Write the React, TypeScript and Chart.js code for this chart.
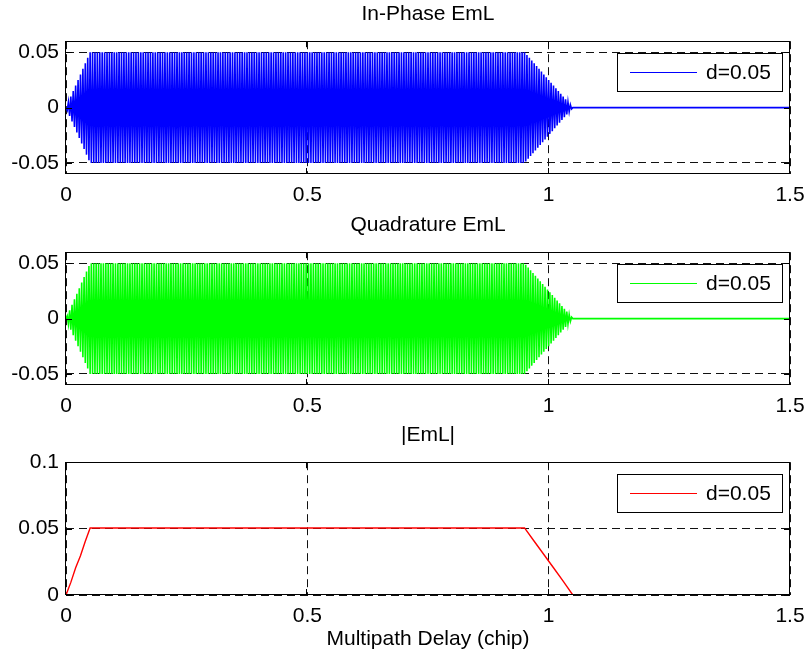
import React, { useEffect, useRef } from 'react';
import { Chart, registerables } from 'chart.js';

Chart.register(...registerables);

// ---- data ----
const SAMPLE_STEP = 0.0025; // chip spacing of the EmL samples
const TAIL_X = 1.5;
const TAIL_Y = 0;
const X_TICKS = [0, 0.5, 1, 1.5];
const IQ_Y_TICKS = [-0.05, 0, 0.05];
const MAG_Y_TICKS = [0, 0.05, 0.1];
const TITLES = ['In-Phase EmL', 'Quadrature EmL', '|EmL|'];
const X_LABEL = 'Multipath Delay (chip)';
const LEGEND_LABEL = 'd=0.05';

const IN_PHASE = [
  0, -0.0025, 0.005, -0.0075, 0.01, -0.0125, 0.015, -0.0175, 0.02, -0.0225,
  0.025, -0.0275, 0.03, -0.0325, 0.035, -0.0375, 0.04, -0.0425, 0.045, -0.0475,
  0.05, -0.05, 0.05, -0.05, 0.05, -0.05, 0.05, -0.05, 0.05, -0.05,
  0.05, -0.05, 0.05, -0.05, 0.05, -0.05, 0.05, -0.05, 0.05, -0.05,
  0.05, -0.05, 0.05, -0.05, 0.05, -0.05, 0.05, -0.05, 0.05, -0.05,
  0.05, -0.05, 0.05, -0.05, 0.05, -0.05, 0.05, -0.05, 0.05, -0.05,
  0.05, -0.05, 0.05, -0.05, 0.05, -0.05, 0.05, -0.05, 0.05, -0.05,
  0.05, -0.05, 0.05, -0.05, 0.05, -0.05, 0.05, -0.05, 0.05, -0.05,
  0.05, -0.05, 0.05, -0.05, 0.05, -0.05, 0.05, -0.05, 0.05, -0.05,
  0.05, -0.05, 0.05, -0.05, 0.05, -0.05, 0.05, -0.05, 0.05, -0.05,
  0.05, -0.05, 0.05, -0.05, 0.05, -0.05, 0.05, -0.05, 0.05, -0.05,
  0.05, -0.05, 0.05, -0.05, 0.05, -0.05, 0.05, -0.05, 0.05, -0.05,
  0.05, -0.05, 0.05, -0.05, 0.05, -0.05, 0.05, -0.05, 0.05, -0.05,
  0.05, -0.05, 0.05, -0.05, 0.05, -0.05, 0.05, -0.05, 0.05, -0.05,
  0.05, -0.05, 0.05, -0.05, 0.05, -0.05, 0.05, -0.05, 0.05, -0.05,
  0.05, -0.05, 0.05, -0.05, 0.05, -0.05, 0.05, -0.05, 0.05, -0.05,
  0.05, -0.05, 0.05, -0.05, 0.05, -0.05, 0.05, -0.05, 0.05, -0.05,
  0.05, -0.05, 0.05, -0.05, 0.05, -0.05, 0.05, -0.05, 0.05, -0.05,
  0.05, -0.05, 0.05, -0.05, 0.05, -0.05, 0.05, -0.05, 0.05, -0.05,
  0.05, -0.05, 0.05, -0.05, 0.05, -0.05, 0.05, -0.05, 0.05, -0.05,
  0.05, -0.05, 0.05, -0.05, 0.05, -0.05, 0.05, -0.05, 0.05, -0.05,
  0.05, -0.05, 0.05, -0.05, 0.05, -0.05, 0.05, -0.05, 0.05, -0.05,
  0.05, -0.05, 0.05, -0.05, 0.05, -0.05, 0.05, -0.05, 0.05, -0.05,
  0.05, -0.05, 0.05, -0.05, 0.05, -0.05, 0.05, -0.05, 0.05, -0.05,
  0.05, -0.05, 0.05, -0.05, 0.05, -0.05, 0.05, -0.05, 0.05, -0.05,
  0.05, -0.05, 0.05, -0.05, 0.05, -0.05, 0.05, -0.05, 0.05, -0.05,
  0.05, -0.05, 0.05, -0.05, 0.05, -0.05, 0.05, -0.05, 0.05, -0.05,
  0.05, -0.05, 0.05, -0.05, 0.05, -0.05, 0.05, -0.05, 0.05, -0.05,
  0.05, -0.05, 0.05, -0.05, 0.05, -0.05, 0.05, -0.05, 0.05, -0.05,
  0.05, -0.05, 0.05, -0.05, 0.05, -0.05, 0.05, -0.05, 0.05, -0.05,
  0.05, -0.05, 0.05, -0.05, 0.05, -0.05, 0.05, -0.05, 0.05, -0.05,
  0.05, -0.05, 0.05, -0.05, 0.05, -0.05, 0.05, -0.05, 0.05, -0.05,
  0.05, -0.05, 0.05, -0.05, 0.05, -0.05, 0.05, -0.05, 0.05, -0.05,
  0.05, -0.05, 0.05, -0.05, 0.05, -0.05, 0.05, -0.05, 0.05, -0.05,
  0.05, -0.05, 0.05, -0.05, 0.05, -0.05, 0.05, -0.05, 0.05, -0.05,
  0.05, -0.05, 0.05, -0.05, 0.05, -0.05, 0.05, -0.05, 0.05, -0.05,
  0.05, -0.05, 0.05, -0.05, 0.05, -0.05, 0.05, -0.05, 0.05, -0.05,
  0.05, -0.05, 0.05, -0.05, 0.05, -0.05, 0.05, -0.05, 0.05, -0.05,
  0.05, -0.04875, 0.0475, -0.04625, 0.045, -0.04375, 0.0425, -0.04125, 0.04, -0.03875,
  0.0375, -0.03625, 0.035, -0.03375, 0.0325, -0.03125, 0.03, -0.02875, 0.0275, -0.02625,
  0.025, -0.02375, 0.0225, -0.02125, 0.02, -0.01875, 0.0175, -0.01625, 0.015, -0.01375,
  0.0125, -0.01125, 0.01, -0.00875, 0.0075, -0.00625, 0.005, -0.00375, 0.0025, -0.00125,
  0,
];

const QUADRATURE = [
  0, 0.0025, -0.005, 0.0075, -0.01, 0.0125, -0.015, 0.0175, -0.02, 0.0225,
  -0.025, 0.0275, -0.03, 0.0325, -0.035, 0.0375, -0.04, 0.0425, -0.045, 0.0475,
  -0.05, 0.05, -0.05, 0.05, -0.05, 0.05, -0.05, 0.05, -0.05, 0.05,
  -0.05, 0.05, -0.05, 0.05, -0.05, 0.05, -0.05, 0.05, -0.05, 0.05,
  -0.05, 0.05, -0.05, 0.05, -0.05, 0.05, -0.05, 0.05, -0.05, 0.05,
  -0.05, 0.05, -0.05, 0.05, -0.05, 0.05, -0.05, 0.05, -0.05, 0.05,
  -0.05, 0.05, -0.05, 0.05, -0.05, 0.05, -0.05, 0.05, -0.05, 0.05,
  -0.05, 0.05, -0.05, 0.05, -0.05, 0.05, -0.05, 0.05, -0.05, 0.05,
  -0.05, 0.05, -0.05, 0.05, -0.05, 0.05, -0.05, 0.05, -0.05, 0.05,
  -0.05, 0.05, -0.05, 0.05, -0.05, 0.05, -0.05, 0.05, -0.05, 0.05,
  -0.05, 0.05, -0.05, 0.05, -0.05, 0.05, -0.05, 0.05, -0.05, 0.05,
  -0.05, 0.05, -0.05, 0.05, -0.05, 0.05, -0.05, 0.05, -0.05, 0.05,
  -0.05, 0.05, -0.05, 0.05, -0.05, 0.05, -0.05, 0.05, -0.05, 0.05,
  -0.05, 0.05, -0.05, 0.05, -0.05, 0.05, -0.05, 0.05, -0.05, 0.05,
  -0.05, 0.05, -0.05, 0.05, -0.05, 0.05, -0.05, 0.05, -0.05, 0.05,
  -0.05, 0.05, -0.05, 0.05, -0.05, 0.05, -0.05, 0.05, -0.05, 0.05,
  -0.05, 0.05, -0.05, 0.05, -0.05, 0.05, -0.05, 0.05, -0.05, 0.05,
  -0.05, 0.05, -0.05, 0.05, -0.05, 0.05, -0.05, 0.05, -0.05, 0.05,
  -0.05, 0.05, -0.05, 0.05, -0.05, 0.05, -0.05, 0.05, -0.05, 0.05,
  -0.05, 0.05, -0.05, 0.05, -0.05, 0.05, -0.05, 0.05, -0.05, 0.05,
  -0.05, 0.05, -0.05, 0.05, -0.05, 0.05, -0.05, 0.05, -0.05, 0.05,
  -0.05, 0.05, -0.05, 0.05, -0.05, 0.05, -0.05, 0.05, -0.05, 0.05,
  -0.05, 0.05, -0.05, 0.05, -0.05, 0.05, -0.05, 0.05, -0.05, 0.05,
  -0.05, 0.05, -0.05, 0.05, -0.05, 0.05, -0.05, 0.05, -0.05, 0.05,
  -0.05, 0.05, -0.05, 0.05, -0.05, 0.05, -0.05, 0.05, -0.05, 0.05,
  -0.05, 0.05, -0.05, 0.05, -0.05, 0.05, -0.05, 0.05, -0.05, 0.05,
  -0.05, 0.05, -0.05, 0.05, -0.05, 0.05, -0.05, 0.05, -0.05, 0.05,
  -0.05, 0.05, -0.05, 0.05, -0.05, 0.05, -0.05, 0.05, -0.05, 0.05,
  -0.05, 0.05, -0.05, 0.05, -0.05, 0.05, -0.05, 0.05, -0.05, 0.05,
  -0.05, 0.05, -0.05, 0.05, -0.05, 0.05, -0.05, 0.05, -0.05, 0.05,
  -0.05, 0.05, -0.05, 0.05, -0.05, 0.05, -0.05, 0.05, -0.05, 0.05,
  -0.05, 0.05, -0.05, 0.05, -0.05, 0.05, -0.05, 0.05, -0.05, 0.05,
  -0.05, 0.05, -0.05, 0.05, -0.05, 0.05, -0.05, 0.05, -0.05, 0.05,
  -0.05, 0.05, -0.05, 0.05, -0.05, 0.05, -0.05, 0.05, -0.05, 0.05,
  -0.05, 0.05, -0.05, 0.05, -0.05, 0.05, -0.05, 0.05, -0.05, 0.05,
  -0.05, 0.05, -0.05, 0.05, -0.05, 0.05, -0.05, 0.05, -0.05, 0.05,
  -0.05, 0.05, -0.05, 0.05, -0.05, 0.05, -0.05, 0.05, -0.05, 0.05,
  -0.05, 0.05, -0.05, 0.05, -0.05, 0.05, -0.05, 0.05, -0.05, 0.05,
  -0.05, 0.04875, -0.0475, 0.04625, -0.045, 0.04375, -0.0425, 0.04125, -0.04, 0.03875,
  -0.0375, 0.03625, -0.035, 0.03375, -0.0325, 0.03125, -0.03, 0.02875, -0.0275, 0.02625,
  -0.025, 0.02375, -0.0225, 0.02125, -0.02, 0.01875, -0.0175, 0.01625, -0.015, 0.01375,
  -0.0125, 0.01125, -0.01, 0.00875, -0.0075, 0.00625, -0.005, 0.00375, -0.0025, 0.00125,
  0,
];

const MAG_X = [0, 0.01, 0.02, 0.03, 0.04, 0.05, 0.95, 0.97, 0.99, 1.01, 1.03, 1.05, 1.5];
const MAG_Y = [0, 0.0095, 0.0205, 0.0295, 0.0405, 0.0505, 0.0505, 0.0405, 0.0305, 0.0205, 0.0105, 0, 0];

// ---- styling ----
const FONT = "'Liberation Sans', Arial, Helvetica, sans-serif";
const FONT_SIZE = 21;

const sampled = (vals: number[]) => {
  const pts = vals.map((v, i) => ({ x: i * SAMPLE_STEP, y: v }));
  pts.push({ x: TAIL_X, y: TAIL_Y });
  return pts;
};

const matlabAxes = {
  id: 'matlabAxes',
  afterDatasetsDraw(chart: any) {
    const { ctx, chartArea: a, scales } = chart;
    const ds = chart.data.datasets[0];
    ctx.save();
    ctx.setLineDash([]);
    ctx.strokeStyle = '#000';
    ctx.lineWidth = 1;
    const tl = 6;
    ctx.beginPath();
    scales.x.ticks.forEach((t: any) => {
      const px = Math.round(scales.x.getPixelForValue(t.value)) - 0.5;
      ctx.moveTo(px, a.bottom);
      ctx.lineTo(px, a.bottom - tl);
      ctx.moveTo(px, a.top);
      ctx.lineTo(px, a.top + tl);
    });
    scales.y.ticks.forEach((t: any) => {
      const py = Math.round(scales.y.getPixelForValue(t.value)) + 0.5;
      ctx.moveTo(a.left, py);
      ctx.lineTo(a.left + tl, py);
      ctx.moveTo(a.right, py);
      ctx.lineTo(a.right - tl, py);
    });
    ctx.stroke();
    // frame
    ctx.strokeRect(Math.round(a.left) - 0.5, Math.round(a.top) + 0.5,
      Math.round(a.right) - Math.round(a.left), Math.round(a.bottom) - Math.round(a.top) - 1);
    // legend box
    const bw = 165, bh = 38;
    const bx = Math.round(a.right) - 8 - bw;
    const by = Math.round(a.top) + 12;
    ctx.fillStyle = '#fff';
    ctx.fillRect(bx, by, bw, bh);
    ctx.strokeRect(bx + 0.5, by + 0.5, bw, bh);
    const cy = by + bh / 2 + 0.5;
    ctx.strokeStyle = ds.borderColor;
    ctx.beginPath();
    ctx.moveTo(bx + 13, cy);
    ctx.lineTo(bx + 80, cy);
    ctx.stroke();
    ctx.fillStyle = '#000';
    ctx.font = `${FONT_SIZE}px ${FONT}`;
    ctx.textAlign = 'left';
    ctx.textBaseline = 'middle';
    ctx.fillText(ds.label, bx + 89, cy + 1);
    ctx.restore();
  },
};

function makeConfig(opts: {
  title: string;
  data: { x: number; y: number }[];
  color: string;
  width: number;
  yMin: number;
  yMax: number;
  yTicks: number[];
  xHeight: number;
  showXLabel: boolean;
}) {
  return {
    type: 'line' as const,
    data: {
      datasets: [
        {
          label: LEGEND_LABEL,
          data: opts.data,
          borderColor: opts.color,
          backgroundColor: opts.color,
          borderWidth: opts.width,
          pointRadius: 0,
          tension: 0,
          fill: false,
        },
      ],
    },
    options: {
      animation: false as const,
      responsive: false,
      maintainAspectRatio: false,
      events: [],
      layout: { padding: { left: 0, right: 17, top: 0, bottom: 0 } },
      plugins: {
        legend: { display: false },
        tooltip: { enabled: false },
        title: {
          display: true,
          text: opts.title,
          fullSize: false,
          color: '#000',
          font: { family: FONT, size: FONT_SIZE, weight: 'normal' as const },
          padding: { top: 2, bottom: 14 },
        },
      },
      scales: {
        x: {
          type: 'linear' as const,
          min: 0,
          max: 1.5,
          afterBuildTicks: (s: any) => {
            s.ticks = X_TICKS.map((v) => ({ value: v }));
          },
          afterFit: (s: any) => {
            s.height = opts.xHeight;
            s.paddingLeft = 0;
            s.paddingRight = 0;
          },
          ticks: {
            autoSkip: false,
            maxRotation: 0,
            padding: 9,
            color: '#000',
            font: { family: FONT, size: FONT_SIZE },
            callback: (v: any) => String(v),
          },
          grid: { color: '#111', lineWidth: 1, drawTicks: false },
          border: { display: false, dash: [8, 5] },
          title: {
            display: opts.showXLabel,
            text: X_LABEL,
            color: '#000',
            font: { family: FONT, size: FONT_SIZE },
            padding: { top: 0, bottom: 8 },
          },
        },
        y: {
          type: 'linear' as const,
          min: opts.yMin,
          max: opts.yMax,
          afterBuildTicks: (s: any) => {
            s.ticks = opts.yTicks.map((v) => ({ value: v }));
          },
          afterFit: (s: any) => {
            s.width = 66;
            s.paddingTop = 0;
            s.paddingBottom = 0;
          },
          ticks: {
            autoSkip: false,
            padding: 7,
            color: '#000',
            font: { family: FONT, size: FONT_SIZE },
            callback: (v: any) => String(v),
          },
          grid: { color: '#111', lineWidth: 1, drawTicks: false },
          border: { display: false, dash: [8, 5] },
        },
      },
    },
    plugins: [matlabAxes],
  };
}

function Panel(props: { top: number; height: number; config: any }) {
  const ref = useRef<HTMLCanvasElement | null>(null);
  useEffect(() => {
    if (!ref.current) return;
    const chart = new Chart(ref.current, props.config);
    return () => chart.destroy();
  }, []);
  return (
    <canvas
      ref={ref}
      width={807}
      height={props.height}
      style={{ position: 'absolute', left: 0, top: props.top, width: 807, height: props.height, display: 'block' }}
    />
  );
}

export default function App() {
  const c1 = makeConfig({
    title: TITLES[0], data: sampled(IN_PHASE), color: '#0000ff', width: 1.6,
    yMin: -0.06, yMax: 0.06, yTicks: IQ_Y_TICKS, xHeight: 37, showXLabel: false,
  });
  const c2 = makeConfig({
    title: TITLES[1], data: sampled(QUADRATURE), color: '#00ff00', width: 1.6,
    yMin: -0.06, yMax: 0.06, yTicks: IQ_Y_TICKS, xHeight: 36, showXLabel: false,
  });
  const c3 = makeConfig({
    title: TITLES[2], data: MAG_X.map((x, i) => ({ x, y: MAG_Y[i] })), color: '#ff0000', width: 1.4,
    yMin: 0, yMax: 0.1, yTicks: MAG_Y_TICKS, xHeight: 65, showXLabel: true,
  });
  return (
    <div style={{ position: 'absolute', left: 0, top: 0, width: 807, height: 660, background: '#fff' }}>
      <Panel top={0} height={211} config={c1} />
      <Panel top={211} height={210} config={c2} />
      <Panel top={421} height={239} config={c3} />
    </div>
  );
}
